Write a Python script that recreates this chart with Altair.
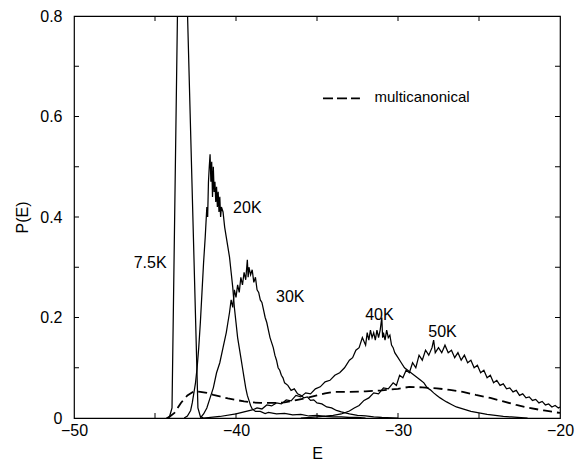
import altair as alt
import pandas as pd

# ---------------- data ----------------
E_75K = [-44.3, -44.1, -43.95, -43.4, -42.35, -42.2, -42.0]
P_75K = [0.0, 0.003, 0.02, 1.3, 0.02, 0.003, 0.0]

E_20K = [-43.2, -43.0, -42.8, -42.7, -42.6, -42.5, -42.4, -42.3, -42.2, -42.1,
         -42.0, -41.9, -41.8, -41.75, -41.7, -41.65, -41.6, -41.55, -41.5, -41.45,
         -41.4, -41.35, -41.3, -41.25, -41.2, -41.15, -41.1, -41.05, -41.0, -40.95,
         -40.9, -40.8, -40.7, -40.6, -40.5, -40.4, -40.3, -40.2, -40.1, -40.0,
         -39.9, -39.8, -39.7, -39.6, -39.5, -39.4, -39.3, -39.2, -39.1, -39.0,
         -38.8, -38.5, -38.2, -38.0, -37.5, -37.0, -36.5, -36.0, -35.5, -35.0,
         -34.5, -34.0, -33.5, -33.0, -32.5, -32.0]
P_20K = [0.0, 0.004, 0.015, 0.03, 0.05, 0.07, 0.10, 0.14, 0.19, 0.25,
         0.31, 0.36, 0.42, 0.40, 0.47, 0.50, 0.525, 0.47, 0.51, 0.44,
         0.50, 0.45, 0.47, 0.43, 0.46, 0.42, 0.45, 0.41, 0.44, 0.40,
         0.42, 0.41, 0.38, 0.36, 0.34, 0.32, 0.29, 0.26, 0.22, 0.19,
         0.16, 0.14, 0.12, 0.10, 0.08, 0.06, 0.045, 0.035, 0.025, 0.018,
         0.013, 0.013, 0.009, 0.011, 0.008, 0.009, 0.006, 0.007, 0.004, 0.005,
         0.003, 0.002, 0.002, 0.001, 0.001, 0.0]

E_30K = [-42.2, -42.0, -41.8, -41.6, -41.4, -41.2, -41.0, -40.8, -40.6, -40.5,
         -40.4, -40.3, -40.2, -40.1, -40.0, -39.9, -39.8, -39.7, -39.6, -39.5,
         -39.4, -39.3, -39.25, -39.2, -39.1, -39.0, -38.9, -38.8, -38.7, -38.6,
         -38.5, -38.4, -38.3, -38.2, -38.1, -38.0, -37.9, -37.8, -37.7, -37.6,
         -37.5, -37.4, -37.3, -37.2, -37.1, -37.0, -36.8, -36.6, -36.4, -36.2,
         -36.0, -35.8, -35.6, -35.4, -35.2, -35.0, -34.7, -34.4, -34.1, -33.8,
         -33.5, -33.0, -32.5, -32.0, -31.5, -31.0, -30.0]
P_30K = [0.0, 0.008, 0.02, 0.04, 0.06, 0.09, 0.11, 0.14, 0.17, 0.19,
         0.21, 0.235, 0.22, 0.255, 0.24, 0.265, 0.25, 0.28, 0.265, 0.29,
         0.275, 0.315, 0.28, 0.30, 0.285, 0.295, 0.27, 0.28, 0.255, 0.25,
         0.235, 0.23, 0.215, 0.20, 0.19, 0.175, 0.16, 0.15, 0.14, 0.125,
         0.115, 0.10, 0.095, 0.085, 0.08, 0.07, 0.065, 0.055, 0.058, 0.048,
         0.045, 0.04, 0.042, 0.035, 0.036, 0.03, 0.028, 0.022, 0.02, 0.015,
         0.012, 0.008, 0.005, 0.004, 0.002, 0.001, 0.0]

E_40K = [-42.0, -41.0, -40.0, -39.5, -39.0, -38.7, -38.4, -38.1, -37.8, -37.5,
         -37.2, -36.9, -36.6, -36.3, -36.0, -35.7, -35.4, -35.1, -34.8, -34.5,
         -34.2, -33.9, -33.6, -33.3, -33.0, -32.8, -32.6, -32.4, -32.2, -32.0,
         -31.9, -31.8, -31.7, -31.6, -31.5, -31.4, -31.3, -31.2, -31.1, -31.0,
         -30.95, -30.9, -30.8, -30.7, -30.6, -30.5, -30.4, -30.3, -30.2, -30.0,
         -29.8, -29.6, -29.4, -29.2, -29.0, -28.8, -28.6, -28.4, -28.2, -28.0,
         -27.8, -27.6, -27.4, -27.2, -27.0, -26.7, -26.4, -26.0, -25.5, -25.0,
         -24.5, -24.0, -23.5, -23.0, -22.0]
P_40K = [0.0, 0.003, 0.008, 0.012, 0.016, 0.02, 0.018, 0.026, 0.024, 0.03,
         0.028, 0.036, 0.034, 0.045, 0.042, 0.05, 0.048, 0.058, 0.062, 0.072,
         0.075, 0.085, 0.09, 0.10, 0.115, 0.12, 0.135, 0.14, 0.16, 0.145,
         0.17, 0.155, 0.175, 0.16, 0.17, 0.155, 0.175, 0.16, 0.175, 0.20,
         0.16, 0.17, 0.155, 0.175, 0.16, 0.165, 0.145, 0.14, 0.13, 0.12,
         0.11, 0.10, 0.095, 0.09, 0.085, 0.08, 0.075, 0.07, 0.06, 0.056,
         0.05, 0.045, 0.04, 0.036, 0.032, 0.027, 0.022, 0.018, 0.013, 0.01,
         0.007, 0.005, 0.003, 0.002, 0.0]

E_50K = [-36.0, -35.0, -34.0, -33.5, -33.0, -32.7, -32.4, -32.1, -31.8, -31.5,
         -31.2, -30.9, -30.6, -30.3, -30.1, -29.9, -29.7, -29.5, -29.3, -29.1,
         -28.9, -28.7, -28.5, -28.3, -28.1, -27.9, -27.8, -27.7, -27.5, -27.3,
         -27.1, -26.9, -26.7, -26.5, -26.3, -26.1, -25.9, -25.7, -25.5, -25.3,
         -25.1, -24.9, -24.7, -24.5, -24.3, -24.1, -23.9, -23.7, -23.5, -23.3,
         -23.1, -22.9, -22.7, -22.5, -22.3, -22.1, -21.9, -21.7, -21.5, -21.3,
         -21.1, -20.9, -20.7, -20.5, -20.3, -20.1, -20.0]
P_50K = [0.0, 0.002, 0.005, 0.008, 0.014, 0.02, 0.025, 0.035, 0.04, 0.05,
         0.048, 0.06, 0.058, 0.07, 0.065, 0.085, 0.08, 0.095, 0.09, 0.11,
         0.10, 0.125, 0.115, 0.135, 0.125, 0.14, 0.155, 0.13, 0.14, 0.13,
         0.145, 0.13, 0.135, 0.12, 0.13, 0.115, 0.125, 0.11, 0.115, 0.10,
         0.105, 0.09, 0.095, 0.08, 0.085, 0.07, 0.075, 0.065, 0.068, 0.058,
         0.06, 0.052, 0.055, 0.045, 0.048, 0.04, 0.042, 0.035, 0.037, 0.03,
         0.033, 0.026, 0.028, 0.022, 0.025, 0.02, 0.022]

E_MULTI = [-44.2, -43.8, -43.4, -43.0, -42.6, -42.2, -41.8, -41.4, -41.0, -40.5,
           -40.0, -39.5, -39.0, -38.5, -38.0, -37.5, -37.0, -36.5, -36.2, -35.5,
           -35.0, -34.5, -34.0, -33.0, -32.0, -31.0, -30.0, -29.3, -28.5, -27.6,
           -26.8, -26.0, -25.2, -24.3, -23.5, -22.7, -21.9, -21.0, -20.0]
P_MULTI = [0.0, 0.01, 0.03, 0.045, 0.053, 0.052, 0.05, 0.046, 0.043, 0.039,
           0.036, 0.033, 0.031, 0.030, 0.030, 0.030, 0.031, 0.034, 0.036, 0.041,
           0.045, 0.049, 0.052, 0.052, 0.053, 0.055, 0.058, 0.062, 0.061, 0.059,
           0.056, 0.052, 0.046, 0.04, 0.033, 0.026, 0.02, 0.015, 0.01]

LABELS = ["7.5K", "20K", "30K", "40K", "50K"]
LABEL_E = [-45.3, -39.3, -36.65, -31.15, -27.25]
LABEL_P = [0.308, 0.418, 0.241, 0.205, 0.171]

X_TICK_LABELS = [-50, -40, -30, -20]
Y_TICK_LABELS = [0, 0.2, 0.4, 0.6, 0.8]
X_MINOR = [-45, -40, -35, -30, -25]
Y_MINOR = [0.1, 0.2, 0.3, 0.4, 0.5, 0.6, 0.7]

LEGEND_TEXT = "multicanonical"

# ---------------- tables ----------------
solid_rows = []
for name, es, ps in [("7.5K", E_75K, P_75K), ("20K", E_20K, P_20K), ("30K", E_30K, P_30K),
                     ("40K", E_40K, P_40K), ("50K", E_50K, P_50K)]:
    for i, (e, p) in enumerate(zip(es, ps)):
        solid_rows.append({"series": name, "E": e, "P": p, "order": i})
solid_df = pd.DataFrame(solid_rows)
multi_df = pd.DataFrame({"E": E_MULTI, "P": P_MULTI, "order": range(len(E_MULTI))})
label_df = pd.DataFrame({"label": LABELS, "E": LABEL_E, "P": LABEL_P})
xt_df = pd.DataFrame({"E": X_MINOR})
yt_df = pd.DataFrame({"P": Y_MINOR})
leg_line_df = pd.DataFrame({"E": [-34.63], "E2": [-32.35], "P": [0.636]})
leg_text_df = pd.DataFrame({"E": [-31.45], "P": [0.639], "t": [LEGEND_TEXT]})

W, H = 486, 402
FONT = "Liberation Sans"

xscale = alt.Scale(domain=[-50, -20], nice=False, zero=False)
yscale = alt.Scale(domain=[0, 0.8], nice=False, zero=False)

xaxis = alt.Axis(values=X_TICK_LABELS, ticks=False, domain=False, grid=False,
                 labelFlush=False,
                 labelFont=FONT, labelFontSize=16, labelColor="black", labelPadding=4,
                 title="E", titleFont=FONT, titleFontSize=16, titleFontWeight="normal",
                 titleColor="black", titleY=27, titleBaseline="top")
yaxis = alt.Axis(values=Y_TICK_LABELS, ticks=False, domain=False, grid=False,
                 labelFlush=False,
                 labelFont=FONT, labelFontSize=16, labelColor="black", labelPadding=12,
                 labelExpr="datum.value == 0 ? '0' : format(datum.value, '.1f')",
                 title="P(E)", titleFont=FONT, titleFontSize=16, titleFontWeight="normal",
                 titleColor="black", titleAngle=270, titleX=-52, titleY=201,
                 titleAlign="center", titleBaseline="middle")

X = alt.X("E:Q", scale=xscale, axis=xaxis, title="E")
Y = alt.Y("P:Q", scale=yscale, axis=yaxis, title="P(E)")

solid = alt.Chart(solid_df).mark_line(color="black", strokeWidth=1.25, clip=True).encode(
    x=X, y=Y, detail="series:N", order="order:Q",
)

dashed = alt.Chart(multi_df).mark_line(color="black", strokeWidth=1.8,
                                       strokeDash=[9, 5], clip=True).encode(
    x=X, y=Y, order="order:Q",
)

labels = alt.Chart(label_df).mark_text(font=FONT, fontSize=16, color="black",
                                       align="center", baseline="middle").encode(
    x=X, y=Y, text="label:N",
)

leg_line = alt.Chart(leg_line_df).mark_rule(color="black", strokeWidth=1.8,
                                            strokeDash=[10, 4]).encode(
    x=X, x2="E2:Q", y=Y,
)
leg_text = alt.Chart(leg_text_df).mark_text(font=FONT, fontSize=15, color="black",
                                            align="left", baseline="middle").encode(
    x=X, y=Y, text="t:N",
)

TL = 5
xt_bottom = alt.Chart(xt_df).mark_rule(color="black", strokeWidth=1).encode(
    x=X, y=alt.value(H), y2=alt.value(H - TL))
xt_top = alt.Chart(xt_df).mark_rule(color="black", strokeWidth=1).encode(
    x=X, y=alt.value(0), y2=alt.value(TL))
yt_left = alt.Chart(yt_df).mark_rule(color="black", strokeWidth=1).encode(
    y=Y, x=alt.value(0), x2=alt.value(TL))
yt_right = alt.Chart(yt_df).mark_rule(color="black", strokeWidth=1).encode(
    y=Y, x=alt.value(W), x2=alt.value(W - TL))

chart = alt.layer(
    solid, dashed, labels, leg_line, leg_text, xt_bottom, xt_top, yt_left, yt_right
).properties(
    width=W, height=H,
    autosize=alt.AutoSizeParams(type="none"),
    padding={"left": 74, "top": 16, "right": 16, "bottom": 43},
    background="white",
).configure_view(stroke="black", strokeWidth=1.2)

chart.save("out.html", embed_options={"renderer": "svg", "actions": False})
